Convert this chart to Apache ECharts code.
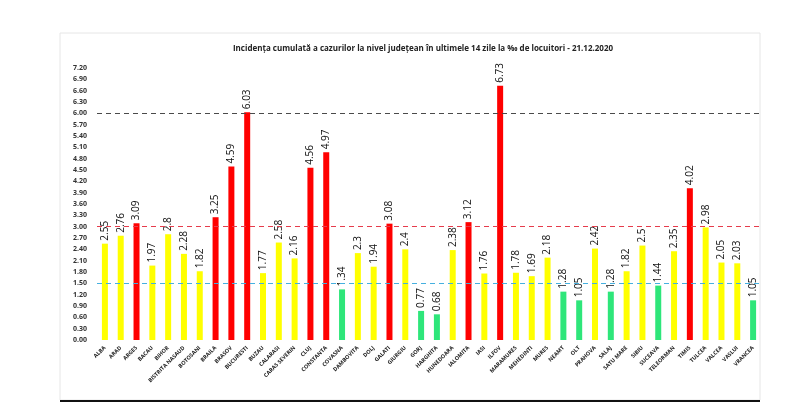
<!DOCTYPE html>
<html>
<head>
<meta charset="utf-8">
<script src="https://cdn.jsdelivr.net/npm/echarts@6/dist/echarts.min.js"></script>
<style>
  html, body { margin: 0; padding: 0; background: #fff; }
  #main { width: 800px; height: 415px; }
</style>
</head>
<body>
<div id="main"></div>
<script>
  // judete si incidenta la 1000 de locuitori
  var judete = ["ALBA", "ARAD", "ARGES", "BACAU", "BIHOR", "BISTRITA NASAUD", "BOTOSANI", "BRAILA", "BRASOV", "BUCURESTI",
    "BUZAU", "CALARASI", "CARAS SEVERIN", "CLUJ", "CONSTANTA", "COVASNA", "DAMBOVITA", "DOLJ", "GALATI", "GIURGIU",
    "GORJ", "HARGHITA", "HUNEDOARA", "IALOMITA", "IASI", "ILFOV", "MARAMURES", "MEHEDINTI", "MURES", "NEAMT",
    "OLT", "PRAHOVA", "SALAJ", "SATU MARE", "SIBIU", "SUCEAVA", "TELEORMAN", "TIMIS", "TULCEA", "VALCEA",
    "VASLUI", "VRANCEA"];
  var incidenta = [2.55, 2.76, 3.09, 1.97, 2.8, 2.28, 1.82, 3.25, 4.59, 6.03,
    1.77, 2.58, 2.16, 4.56, 4.97, 1.34, 2.3, 1.94, 3.08, 2.4,
    0.77, 0.68, 2.38, 3.12, 1.76, 6.73, 1.78, 1.69, 2.18, 1.28,
    1.05, 2.42, 1.28, 1.82, 2.5, 1.44, 2.35, 4.02, 2.98, 2.05,
    2.03, 1.05];
  var praguri = [6.0, 3.0, 1.5];
  var culoriPraguri = ["#4a4a4a", "#e63c4c", "#45b0e0"];

  var myChart = echarts.init(document.getElementById("main"));

  function culoare(v) {
    if (v > 3) return "#ff0000";
    if (v >= 1.5) return "#ffff00";
    return "#2ee67a";
  }

  myChart.setOption({
    backgroundColor: "#fff",
    animation: false,
    title: {
      text: "Incidența cumulată a cazurilor la nivel județean în ultimele 14 zile la ‰ de locuitori - 21.12.2020",
      left: 418,
      top: 40,
      textAlign: "center",
      textStyle: { fontFamily: "Open Sans", fontSize: 8, fontWeight: "bold", color: "#222" }
    },
    graphic: [
      {
        type: "rect",
        shape: { x: 60, y: 33, width: 700, height: 367 },
        style: { fill: "none", stroke: "#e6e6e6", lineWidth: 1 }
      },
      {
        type: "line",
        shape: { x1: 60, y1: 401, x2: 760, y2: 401 },
        style: { stroke: "#111", lineWidth: 2 }
      }
    ],
    grid: { left: 97, right: 39, top: 68, bottom: 75 },
    xAxis: {
      type: "category",
      data: judete,
      axisLine: { show: false },
      axisTick: { show: false },
      axisLabel: {
        interval: 0,
        rotate: 45,
        fontSize: 5.5,
        fontWeight: "bold",
        fontFamily: "Open Sans",
        color: "#222",
        margin: 7,
        hideOverlap: false
      }
    },
    yAxis: {
      type: "value",
      min: 0,
      max: 7.2,
      interval: 0.3,
      splitLine: { show: false },
      axisLine: { show: false },
      axisTick: { show: false },
      axisLabel: {
        fontSize: 7,
        fontWeight: "bold",
        fontFamily: "Open Sans",
        color: "#333",
        margin: 10,
        formatter: function (v) { return v.toFixed(2); }
      }
    },
    series: [
      {
        type: "bar",
        barWidth: 6,
        data: incidenta.map(function (v) {
          return { value: v, itemStyle: { color: culoare(v) } };
        }),
        label: {
          show: true,
          position: "top",
          rotate: 90,
          align: "left",
          verticalAlign: "middle",
          distance: 3,
          fontSize: 10,
          color: "#111",
          fontFamily: "Open Sans"
        },
        markLine: {
          symbol: "none",
          silent: true,
          label: { show: false },
          data: praguri.map(function (p, i) {
            return { yAxis: p, lineStyle: { color: culoriPraguri[i], type: [5, 4], width: 1.2 } };
          })
        }
      }
    ]
  });
</script>
</body>
</html>
